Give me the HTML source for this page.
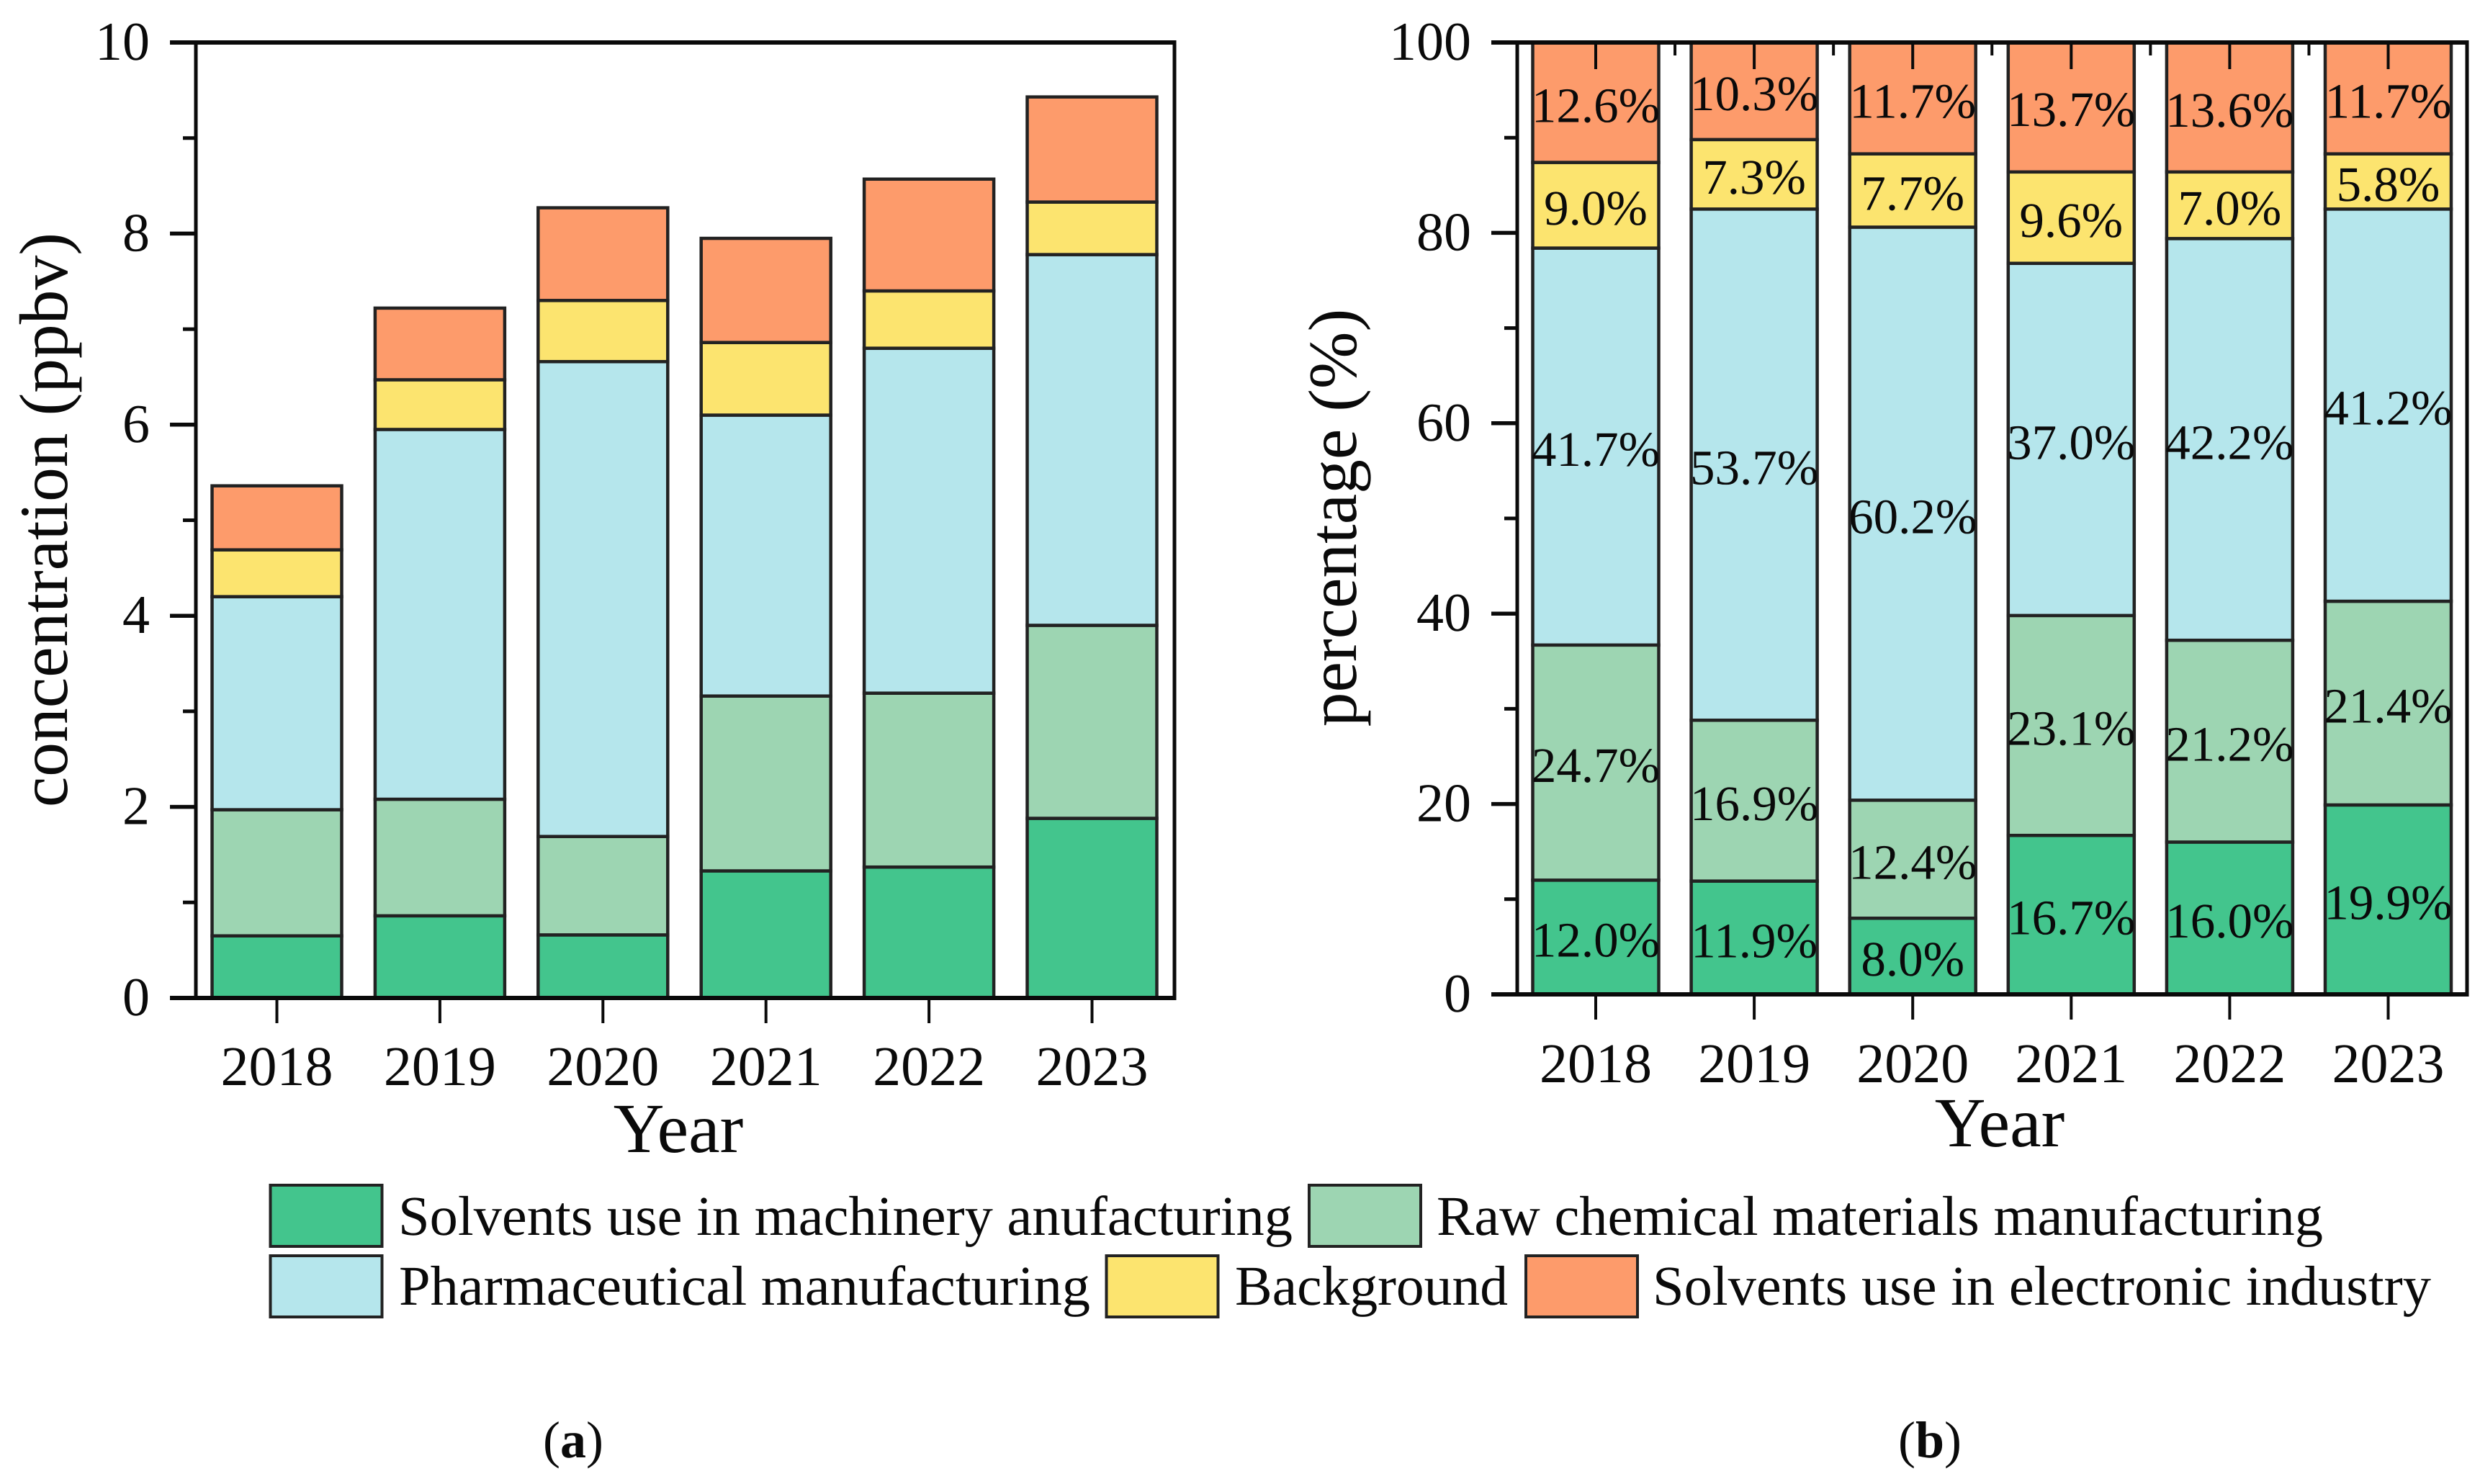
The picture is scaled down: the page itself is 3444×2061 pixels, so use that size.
<!DOCTYPE html>
<html lang="en">
<head>
<meta charset="utf-8">
<title>Source contributions to concentration by year</title>
<style>
html,body{margin:0;padding:0;background:#fff;width:3444px;height:2061px;overflow:hidden}
svg{display:block}
text{font-family:"Liberation Serif",serif;fill:#0a0a0a;text-rendering:geometricPrecision}
</style>
</head>
<body>
<svg id="figure" xmlns="http://www.w3.org/2000/svg" width="3444" height="2061" viewBox="0 0 3444 2061">
  <rect x="0" y="0" width="3444" height="2061" fill="#ffffff"/>
  <g id="panelA"></g>
  <g id="panelB"></g>

  <text transform="translate(93,722) rotate(-90)" text-anchor="middle" font-size="95.5">concentration (ppbv)</text>
  <text x="942" y="1600" text-anchor="middle" font-size="98">Year</text>
  <text transform="translate(1883,719) rotate(-90)" text-anchor="middle" font-size="95.5">percentage (%)</text>
  <text x="2777" y="1592" text-anchor="middle" font-size="98">Year</text>

  <g>
    <rect x="375.5" y="1646" width="155" height="85" fill="#43C58D" stroke="#222" stroke-width="4"/>
    <text x="553" y="1715" font-size="78" textLength="1242" lengthAdjust="spacingAndGlyphs">Solvents use in machinery anufacturing</text>
    <rect x="1818" y="1646" width="155" height="85" fill="#9DD5B2" stroke="#222" stroke-width="4"/>
    <text x="1995" y="1715" font-size="78" textLength="1231" lengthAdjust="spacingAndGlyphs">Raw chemical materials manufacturing</text>
    <rect x="375.5" y="1744" width="155" height="85" fill="#B5E6EC" stroke="#222" stroke-width="4"/>
    <text x="554" y="1812" font-size="78" textLength="960" lengthAdjust="spacingAndGlyphs">Pharmaceutical manufacturing</text>
    <rect x="1536.5" y="1744" width="155" height="85" fill="#FCE46F" stroke="#222" stroke-width="4"/>
    <text x="1715" y="1812" font-size="78" textLength="379" lengthAdjust="spacingAndGlyphs">Background</text>
    <rect x="2119" y="1744" width="155" height="85" fill="#FD9B6B" stroke="#222" stroke-width="4"/>
    <text x="2295" y="1812" font-size="78" textLength="1081" lengthAdjust="spacingAndGlyphs">Solvents use in electronic industry</text>
  </g>

  <text x="796" y="2024" text-anchor="middle" font-size="72">(<tspan font-weight="bold">a</tspan>)</text>
  <text x="2680" y="2024" text-anchor="middle" font-size="72">(<tspan font-weight="bold">b</tspan>)</text>
</svg>
<script>
const categories = ['2018', '2019', '2020', '2021', '2022', '2023'];
const seriesKeys = ['machinery', 'raw-chemical', 'pharmaceutical', 'background', 'electronic'];
const seriesColors = ['#43C58D', '#9DD5B2', '#B5E6EC', '#FCE46F', '#FD9B6B'];

const concMachinery = [0.65, 0.86, 0.66, 1.33, 1.37, 1.88];
const concRawChemical = [1.32, 1.22, 1.03, 1.83, 1.82, 2.02];
const concPharmaceutical = [2.23, 3.87, 4.97, 2.94, 3.61, 3.88];
const concBackground = [0.49, 0.52, 0.64, 0.76, 0.60, 0.55];
const concElectronic = [0.67, 0.75, 0.97, 1.09, 1.17, 1.10];

const pctMachinery = [12.0, 11.9, 8.0, 16.7, 16.0, 19.9];
const pctRawChemical = [24.7, 16.9, 12.4, 23.1, 21.2, 21.4];
const pctPharmaceutical = [41.7, 53.7, 60.2, 37.0, 42.2, 41.2];
const pctBackground = [9.0, 7.3, 7.7, 9.6, 7.0, 5.8];
const pctElectronic = [12.6, 10.3, 11.7, 13.7, 13.6, 11.7];

const concMajorTicks = [0, 2, 4, 6, 8, 10];
const concMinorTicks = [1, 3, 5, 7, 9];
const pctMajorTicks = [0, 20, 40, 60, 80, 100];
const pctMinorTicks = [10, 30, 50, 70, 90];

const concSeries = [concMachinery, concRawChemical, concPharmaceutical, concBackground, concElectronic];
const pctSeries = [pctMachinery, pctRawChemical, pctPharmaceutical, pctBackground, pctElectronic];

const NS = 'http://www.w3.org/2000/svg';
const INK = '#0a0a0a';
const BAR_EDGE = '#222222';

function make(parent, tag, attrs, content) {
  const el = document.createElementNS(NS, tag);
  for (const key in attrs) el.setAttribute(key, attrs[key]);
  if (content !== undefined) el.textContent = content;
  parent.appendChild(el);
  return el;
}

function scaleLinear(d0, d1, r0, r1) {
  return function (v) { return r0 + (v - d0) / (d1 - d0) * (r1 - r0); };
}

function drawPanel(root, cfg) {
  const x = cfg.x;
  const y = cfg.y;
  const barWidth = cfg.barWidth;

  // bars
  categories.forEach(function (cat, i) {
    let base = 0;
    cfg.series.forEach(function (values, s) {
      const top = base + values[i];
      const yTop = y(Math.min(top, cfg.yMax));
      const yBase = y(base);
      const bar = make(root, 'rect', {
        x: x(i) - barWidth / 2,
        y: yTop,
        width: barWidth,
        height: yBase - yTop,
        fill: seriesColors[s],
        stroke: BAR_EDGE,
        'stroke-width': 4.5
      });
      
      
      base = top;
    });
  });

  // y axis ticks and labels
  cfg.majorTicks.forEach(function (v) {
    const tick = make(root, 'line', {
      x1: cfg.left - 36, x2: cfg.left, y1: y(v), y2: y(v),
      stroke: INK, 'stroke-width': 5.5
    });
    
    
    const label = make(root, 'text', {
      x: cfg.left - 64, y: y(v) + 24, 'text-anchor': 'end', 'font-size': 76
    }, String(v));
    
    
  });
  cfg.minorTicks.forEach(function (v) {
    const tick = make(root, 'line', {
      x1: cfg.left - 18, x2: cfg.left, y1: y(v), y2: y(v),
      stroke: INK, 'stroke-width': 5
    });
    
    
  });

  // x axis ticks and labels
  categories.forEach(function (cat, i) {
    const tick = make(root, 'line', {
      x1: x(i), x2: x(i), y1: cfg.bottom, y2: cfg.bottom + 35,
      stroke: INK, 'stroke-width': 4
    });
    
    
    const label = make(root, 'text', {
      x: x(i), y: cfg.xLabelBaseline, 'text-anchor': 'middle', 'font-size': 78
    }, cat);
    
    
    if (cfg.topTicks) {
      const topTick = make(root, 'line', {
        x1: x(i), x2: x(i), y1: cfg.top, y2: cfg.top + 37,
        stroke: INK, 'stroke-width': 4
      });
      
      
      if (i < categories.length - 1) {
        const minorTop = make(root, 'line', {
          x1: x(i + 0.5), x2: x(i + 0.5), y1: cfg.top, y2: cfg.top + 18,
          stroke: INK, 'stroke-width': 4
        });
        
        
      }
    }
  });

  // frame
  const axisTop = make(root, 'line', { x1: cfg.left - 36, x2: cfg.right + 2.5, y1: cfg.top, y2: cfg.top, stroke: INK, 'stroke-width': 6 });
  
  
  const axisBottom = make(root, 'line', { x1: cfg.left - 36, x2: cfg.right + 2.5, y1: cfg.bottom, y2: cfg.bottom, stroke: INK, 'stroke-width': 6 });
  
  
  const axisLeft = make(root, 'line', { x1: cfg.left, x2: cfg.left, y1: cfg.top, y2: cfg.bottom, stroke: INK, 'stroke-width': 5 });
  
  
  const axisRight = make(root, 'line', { x1: cfg.right, x2: cfg.right, y1: cfg.top, y2: cfg.bottom, stroke: INK, 'stroke-width': 5 });
  
  

  // printed percentages
  if (cfg.showValues) {
    categories.forEach(function (cat, i) {
      let base = 0;
      cfg.series.forEach(function (values, s) {
        const mid = base + values[i] / 2;
        const valueLabel = make(root, 'text', {
          x: x(i), y: y(mid) + 27, 'text-anchor': 'middle', 'font-size': 69
        }, values[i].toFixed(1) + '%');
        
        
        base += values[i];
      });
    });
  }
}

drawPanel(document.getElementById('panelA'), {
  series: concSeries,
  x: scaleLinear(0, 5, 384.5, 1516.5),
  y: scaleLinear(0, 10, 1386, 59),
  yMax: 10,
  barWidth: 180,
  left: 272, right: 1631, top: 59, bottom: 1386,
  majorTicks: concMajorTicks,
  minorTicks: concMinorTicks,
  xLabelBaseline: 1507,
  topTicks: false,
  showValues: false
});

drawPanel(document.getElementById('panelB'), {
  series: pctSeries,
  x: scaleLinear(0, 5, 2216, 3316.5),
  y: scaleLinear(0, 100, 1381, 59),
  yMax: 100,
  barWidth: 175,
  left: 2107, right: 3426, top: 59, bottom: 1381,
  majorTicks: pctMajorTicks,
  minorTicks: pctMinorTicks,
  xLabelBaseline: 1503,
  topTicks: true,
  showValues: true
});
</script>
</body>
</html>
